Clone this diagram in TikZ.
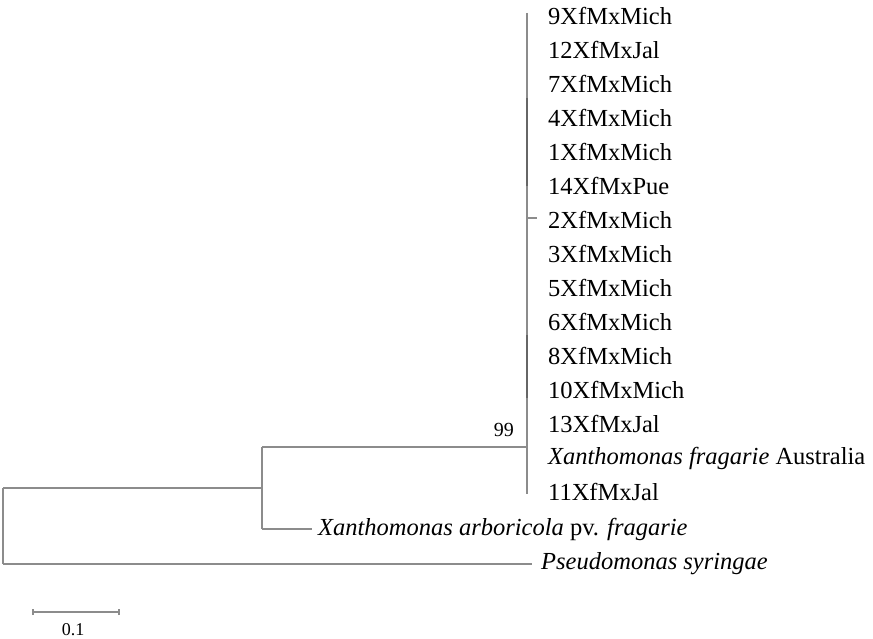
\documentclass[tikz,border=0pt]{standalone}
\usepackage{fontspec}
\setmainfont{Liberation Serif}
\begin{document}
\begin{tikzpicture}[x=1pt,y=-1pt,
  br/.style={draw=black!45, line width=1.1pt},
  dk/.style={draw=black!60, line width=1.6pt},
  lab/.style={anchor=west, inner sep=0pt, font=\fontsize{24.5}{28}\selectfont},
  small/.style={inner sep=0pt, font=\fontsize{20}{24}\selectfont}]
\useasboundingbox (0,0) rectangle (873,639);
% leaf labels
\foreach \t [count=\i] in {9XfMxMich,12XfMxJal,7XfMxMich,4XfMxMich,1XfMxMich,14XfMxPue,2XfMxMich,3XfMxMich,5XfMxMich,6XfMxMich,8XfMxMich,10XfMxMich,13XfMxJal}
  \node[lab] (L\i) at (548,{16+34*(\i-1)}) {\t};
\node[lab] (L14) at (548,458) {\textit{Xanthomonas fragarie} Australia};
\node[lab] (L15) at (548,492) {11XfMxJal};
\node[lab] (xa) at (318,529) {\textit{Xanthomonas arboricola} pv. \textit{fragarie}};
\node[lab] (ps) at (541,564) {\textit{Pseudomonas syringae}};
% internal coordinates
\coordinate (rt) at (3,488);
\coordinate (rb) at (3,564);
\coordinate (n1) at (262,488);
\coordinate (n1t) at (262,447);
\coordinate (n1b) at (262,529);
\coordinate (cl) at (527,447);
\coordinate (ct) at (527,13);
\coordinate (cb) at (527,494);
\coordinate (t7a) at (527,218);
\coordinate (t7b) at (537,218);
\coordinate (xae) at (312,529);
\coordinate (pse) at (532,564);
% branches
\draw[br] (rt) -- (rb);
\draw[br] (rt) -- (n1);
\draw[br] (rb) -- (pse);
\draw[br] (n1t) -- (n1b);
\draw[br] (n1t) -- (cl);
\draw[br] (n1b) -- (xae);
\draw[br] (ct) -- (cb);
\draw[dk] (527,98) -- (527,186);
\draw[dk] (527,335) -- (527,398);
\draw[br] (t7a) -- (t7b);
\node[small, anchor=east] (bs) at (514,430) {99};
% scale bar
\coordinate (s1) at (33,612);
\coordinate (s2) at (119,612);
\draw[br] (s1) -- (s2);
\draw[br] ([yshift=-3]s1) -- ([yshift=3]s1);
\draw[br] ([yshift=-3]s2) -- ([yshift=3]s2);
\node[small, font=\fontsize{18}{20}\selectfont, anchor=base] (sl) at (73,635) {0.1};
\end{tikzpicture}
\end{document}
